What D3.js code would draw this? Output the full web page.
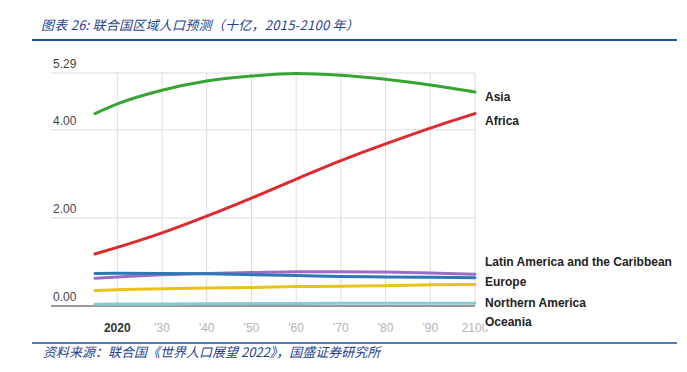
<!DOCTYPE html>
<html lang="zh">
<head>
  <meta charset="UTF-8">
  <title>联合国区域人口预测</title>
  <style>
    body { margin: 0; background: #fff; }
    svg { display: block; }
    .cap { font-family: "Noto Sans CJK SC", sans-serif; font-style: italic; fill: #1d3f8c; }
    .axis text { font-family: "Liberation Sans", Arial, sans-serif; font-size: 12px; }
    .legend text { font-family: "Liberation Sans", Arial, sans-serif; font-size: 12px; font-weight: bold; fill: #222; }
    .series { fill: none; stroke-width: 3px; stroke-linecap: round; }
  </style>
</head>
<body>
<script src="https://cdn.jsdelivr.net/npm/d3@7"></script>
<script>
  // 数据（十亿）
  const years = [2015, 2020, 2030, 2040, 2050, 2060, 2070, 2080, 2090, 2100];
  const asia = [4.37, 4.59, 4.90, 5.11, 5.22, 5.28, 5.24, 5.15, 5.02, 4.86];
  const africa = [1.18, 1.33, 1.66, 2.04, 2.45, 2.88, 3.30, 3.68, 4.04, 4.37];
  const latam = [0.63, 0.66, 0.71, 0.74, 0.76, 0.78, 0.78, 0.77, 0.75, 0.72];
  const europe = [0.74, 0.745, 0.74, 0.73, 0.71, 0.69, 0.67, 0.66, 0.65, 0.64];
  const northAmerica = [0.35, 0.37, 0.39, 0.41, 0.42, 0.44, 0.45, 0.46, 0.48, 0.49];
  const oceania = [0.04, 0.043, 0.048, 0.052, 0.055, 0.058, 0.06, 0.061, 0.062, 0.063];

  const yTicks = [0, 2, 4, 5.29];
  const xTicks = [2020, 2030, 2040, 2050, 2060, 2070, 2080, 2090, 2100];
  const xTickLabels = ["2020", "'30", "'40", "'50", "'60", "'70", "'80", "'90", "2100"];

  const series = [
    {name: "Asia", values: asia, color: "#35a532", ly: 97},
    {name: "Africa", values: africa, color: "#dd2a2c", ly: 121},
    {name: "Latin America and the Caribbean", values: latam, color: "#9a6cc6", ly: 262},
    {name: "Europe", values: europe, color: "#2b78b5", ly: 282},
    {name: "Northern America", values: northAmerica, color: "#e8c21b", ly: 302.5},
    {name: "Oceania", values: oceania, color: "#86cbd2", ly: 322}
  ];
  // 绘制顺序：底部线先画
  const drawOrder = ["Oceania", "Northern America", "Latin America and the Caribbean", "Europe", "Africa", "Asia"];

  const width = 687, height = 372;
  const svg = d3.select("body").append("svg").attr("width", width).attr("height", height);

  // 标题与来源
  svg.append("text").attr("class", "cap").attr("x", 41).attr("y", 30)
    .attr("font-size", "13px").attr("letter-spacing", "0.25px")
    .text("图表 26:  联合国区域人口预测（十亿，2015-2100 年）");
  svg.append("line").attr("x1", 32).attr("x2", 677).attr("y1", 40).attr("y2", 40)
    .attr("stroke", "#1f4fa3").attr("stroke-width", 2);
  svg.append("line").attr("x1", 32).attr("x2", 677).attr("y1", 343).attr("y2", 343)
    .attr("stroke", "#1f4fa3").attr("stroke-width", 1.5);
  svg.append("text").attr("class", "cap").attr("x", 43).attr("y", 357)
    .attr("font-size", "13px").text("资料来源：联合国《世界人口展望 2022》，国盛证券研究所");

  const x = d3.scaleLinear().domain([2020, 2100]).range([117.3, 475]);
  const y = d3.scaleLinear().domain([0, 5.29]).range([306, 73]);

  const axis = svg.append("g").attr("class", "axis");

  // 横向网格
  axis.selectAll("line.h").data(yTicks.filter(d => d > 0)).enter().append("line")
    .attr("x1", 51).attr("x2", x(2100))
    .attr("y1", d => y(d)).attr("y2", d => y(d))
    .attr("stroke", "#dcdcdc").attr("stroke-width", 1);

  // 纵向网格
  axis.selectAll("line.v").data(xTicks).enter().append("line")
    .attr("x1", d => x(d)).attr("x2", d => x(d))
    .attr("y1", y(5.29)).attr("y2", y(0))
    .attr("stroke", "#dcdcdc").attr("stroke-width", 1);

  // 基线
  axis.append("line").attr("x1", 51).attr("x2", x(2100))
    .attr("y1", y(0)).attr("y2", y(0)).attr("stroke", "#333").attr("stroke-width", 1);

  axis.selectAll("text.y").data(yTicks).enter().append("text")
    .attr("x", 53).attr("y", d => y(d) - 5).attr("fill", "#444")
    .text(d => d.toFixed(2));

  axis.selectAll("text.x").data(xTicks).enter().append("text")
    .attr("x", d => x(d)).attr("y", 332).attr("text-anchor", "middle")
    .attr("fill", (d, i) => i === 0 ? "#333" : "#b4b4b4")
    .attr("font-weight", (d, i) => i === 0 ? "bold" : "normal")
    .text((d, i) => xTickLabels[i]);

  const line = d3.line()
    .x((d, i) => x(years[i]))
    .y(d => y(d))
    .curve(d3.curveMonotoneX);

  svg.append("g").selectAll("path")
    .data(drawOrder.map(n => series.find(s => s.name === n)))
    .enter().append("path")
    .attr("class", "series")
    .attr("stroke", d => d.color)
    .attr("d", d => line(d.values));

  // 图例标签
  const legend = svg.append("g").attr("class", "legend");
  series.forEach(s => {
    const t = legend.append("text").attr("x", 485).attr("y", s.ly).attr("dy", "0.35em").text(s.name);
    const b = t.node().getBBox();
    legend.insert("rect", () => t.node())
      .attr("x", b.x - 1).attr("y", b.y).attr("width", b.width + 2).attr("height", b.height)
      .attr("fill", "#fff");
  });
</script>
</body>
</html>
